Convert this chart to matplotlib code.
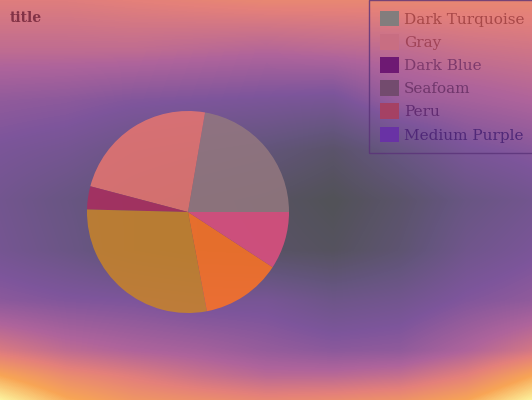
import matplotlib

matplotlib.use("Agg")
import matplotlib.pyplot as plt
import numpy as np
from matplotlib.colors import LinearSegmentedColormap
from matplotlib.patches import Patch


# slice data (percent of the pie)
labels = ["Dark Turquoise", "Gray", "Dark Blue", "Seafoam", "Peru", "Medium Purple"]
shares = [22.3, 23.6, 3.7, 28.4, 12.8, 9.2]

# colours as they look in the picture
wedge_colors = ["#94787f", "#e8766f", "#ac2c5d", "#c98428", "#ff7322", "#e14f80"]
swatch_colors = ["#827d7d", "#c86e82", "#6e1973", "#734b6e", "#a54164", "#6932a5"]
text_colors = ["#a84848", "#a04458", "#7e3a6c", "#70366c", "#622c72", "#502878"]

# background glow: level grid (0 = dark grey centre, 6 = yellow)
bg_x = [0, 66, 133, 200, 266, 333, 400, 466, 532]
bg_y = [0, 50, 100, 150, 200, 250, 300, 350, 375, 400]
bg_levels = [
    [3.9, 3.9, 4.0, 4.1, 4.2, 4.2, 4.2, 4.2, 4.2],
    [3.3, 3.3, 3.3, 3.2, 3.1, 3.2, 3.3, 3.5, 3.6],
    [2.4, 2.3, 2.1, 2.0, 1.9, 1.8, 2.6, 2.8, 3.0],
    [1.9, 1.7, 1.3, 1.1, 0.9, 0.5, 1.2, 1.9, 2.2],
    [1.6, 1.2, 0.8, 0.5, 0.3, 0.0, 0.5, 1.2, 1.6],
    [1.7, 1.3, 0.8, 0.5, 0.4, 0.2, 0.7, 1.5, 1.9],
    [2.3, 2.1, 2.0, 1.8, 1.8, 1.4, 1.6, 2.1, 2.4],
    [3.8, 3.3, 3.0, 2.8, 2.5, 2.3, 2.4, 3.0, 3.7],
    [5.0, 4.3, 3.9, 3.5, 3.2, 3.2, 3.4, 4.0, 5.0],
    [6.0, 5.1, 4.6, 4.4, 4.2, 4.3, 4.5, 5.0, 6.0],
]
glow_colors = ["#525258", "#64557d", "#7d559b", "#af649b", "#e4807a", "#f8a555", "#fcf5a0"]

W, H = 532, 400


def glow_image() -> np.ndarray:
    grid = np.array(bg_levels, dtype=float)
    xs = np.arange(W)
    ys = np.arange(H)
    # bilinear: first along x for every grid row, then along y
    rows = np.array([np.interp(xs, bg_x, r) for r in grid])
    img = np.empty((H, W))
    for j in range(W):
        img[:, j] = np.interp(ys, bg_y, rows[:, j])
    return img


fig = plt.figure(figsize=(W / 100, H / 100), dpi=100)

# full-figure background
bg_ax = fig.add_axes([0, 0, 1, 1], zorder=0)
cmap = LinearSegmentedColormap.from_list("glow", glow_colors)
bg_ax.imshow(glow_image(), cmap=cmap, vmin=0, vmax=6, aspect="auto",
             interpolation="bicubic", extent=(0, W, H, 0))
bg_ax.set_axis_off()

# pie axes, square in pixels, centre (188, 212), radius ~101
cx, cy, r = 188, 212, 101
pie_ax = fig.add_axes([(cx - r) / W, (H - cy - r) / H, 2 * r / W, 2 * r / H], zorder=1)
pie_ax.pie(shares, colors=wedge_colors, startangle=0, counterclock=True,
           wedgeprops={"alpha": 0.85, "linewidth": 0})
pie_ax.set_xlim(-1, 1)
pie_ax.set_ylim(-1, 1)
pie_ax.set_axis_off()

handles = [Patch(facecolor=c, edgecolor="none", label=l) for c, l in zip(swatch_colors, labels)]
leg = fig.legend(handles=handles, loc="upper right", bbox_to_anchor=(1.0 + 3 / W, 1.0),
                 borderaxespad=0, prop={"family": "DejaVu Serif", "size": 11},
                 handlelength=1.25, handleheight=1.2, handletextpad=0.3, labelspacing=0.47,
                 borderpad=0.7, fancybox=False, facecolor="none", edgecolor="#5a3278")
leg.get_frame().set_linewidth(1.0)
for txt, col in zip(leg.get_texts(), text_colors):
    txt.set_color(col)

fig.text(10 / W, (H - 22) / H, "title", family="DejaVu Serif", weight="bold",
         fontsize=10, color="#823246", va="baseline", ha="left")

fig.savefig("out.png", dpi=100)
